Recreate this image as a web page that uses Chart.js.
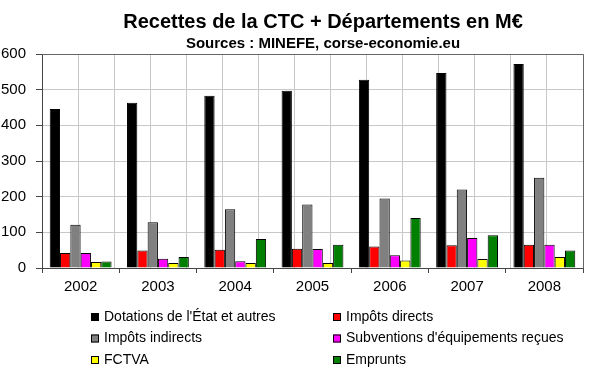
<!DOCTYPE html>
<html>
<head>
<meta charset="utf-8">
<script src="https://cdn.jsdelivr.net/npm/chart.js@4"></script>
<style>
  html, body { margin: 0; padding: 0; background: #fff; }
  #wrap { width: 600px; height: 372px; }
</style>
</head>
<body>
<div id="wrap"><canvas id="chart" width="600" height="372"></canvas></div>
<script>
const years = ['2002', '2003', '2004', '2005', '2006', '2007', '2008'];
const dotations = [446, 463, 483, 497, 528, 547, 572];
const impotsDirects = [42, 49, 51, 54, 60, 64, 65];
const impotsIndirects = [121, 128, 165, 178, 195, 220, 253];
const subventions = [42, 26, 19, 53, 36, 84, 65];
const fctva = [17, 14, 14, 14, 21, 25, 31];
const emprunts = [18, 31, 81, 65, 140, 92, 49];

const seriesNames = ["Dotations de l'État et autres", 'Impôts directs', 'Impôts indirects',
  "Subventions d'équipements reçues", 'FCTVA', 'Emprunts'];
const seriesColors = ['#000000', '#ff0000', '#808080', '#ff00ff', '#ffff00', '#008000'];
const seriesData = [dotations, impotsDirects, impotsIndirects, subventions, fctva, emprunts];

const titleText = 'Recettes de la CTC + Départements en M€';
const subtitleText = 'Sources : MINEFE, corse-economie.eu';

const FONT = '"Liberation Sans", Arial, sans-serif';

// title, subtitle, plot frame and the 2-column legend
const decor = {
  id: 'decor',
  afterDraw(chart) {
    const ctx = chart.ctx;
    const area = chart.chartArea;
    ctx.save();
    ctx.strokeStyle = '#666';
    ctx.lineWidth = 1;
    ctx.beginPath();
    ctx.moveTo(Math.round(area.left) + 0.5, Math.round(area.top) + 0.5);
    ctx.lineTo(Math.round(area.right) + 0.5, Math.round(area.top) + 0.5);
    ctx.lineTo(Math.round(area.right) + 0.5, Math.round(area.bottom) + 0.5);
    ctx.stroke();

    ctx.fillStyle = '#000';
    ctx.textAlign = 'center';
    ctx.textBaseline = 'alphabetic';
    ctx.font = 'bold 20px ' + FONT;
    ctx.fillText(titleText, 323, 28);
    ctx.font = 'bold 15px ' + FONT;
    ctx.fillText(subtitleText, 323, 48);

    ctx.font = '14px ' + FONT;
    ctx.textAlign = 'left';
    ctx.textBaseline = 'middle';
    chart.data.datasets.forEach((ds, i) => {
      const col = i % 2, row = Math.floor(i / 2);
      const bx = col === 0 ? 91 : 333;
      const by = 317 + row * 21.5;
      ctx.fillStyle = ds.backgroundColor;
      ctx.fillRect(bx, by - 4, 8, 8);
      ctx.strokeStyle = '#000';
      ctx.strokeRect(bx + 0.5, by - 3.5, 7, 7);
      ctx.fillStyle = '#000';
      ctx.fillText(ds.label, bx + 13, by);
    });
    ctx.restore();
  }
};

new Chart(document.getElementById('chart'), {
  type: 'bar',
  data: {
    labels: years,
    datasets: seriesNames.map((name, i) => ({
      label: name,
      data: seriesData[i],
      backgroundColor: seriesColors[i],
      borderColor: '#000',
      borderWidth: 1,
      borderSkipped: 'bottom',
      categoryPercentage: 0.8,
      barPercentage: 1.0
    }))
  },
  options: {
    responsive: false,
    animation: false,
    layout: { padding: { top: 54, right: 17, bottom: 74, left: 0 } },
    plugins: {
      legend: { display: false },
      title: { display: false },
      tooltip: { enabled: false }
    },
    scales: {
      x: {
        grid: {
          offset: true,
          drawOnChartArea: false,
          tickLength: 5,
          tickColor: '#444'
        },
        border: { display: true, color: '#444' },
        ticks: { color: '#000', font: { family: FONT, size: 15 }, padding: 5 },
        afterFit(s) { s.height = 30; }
      },
      x2: {
        type: 'linear',
        position: 'top',
        min: 0,
        max: 14,
        ticks: { display: false, stepSize: 1 },
        grid: { color: '#c8c8c8', borderDash: [3, 3], drawTicks: false },
        border: { display: false },
        afterFit(s) { s.height = 0; }
      },
      y: {
        min: 0,
        max: 600,
        ticks: { stepSize: 100, color: '#000', font: { family: FONT, size: 15 }, padding: 10 },
        grid: {
          color: '#c8c8c8',
          borderDash: [3, 3],
          tickLength: 6,
          tickColor: '#444',
          tickBorderDash: []
        },
        border: { display: true, color: '#444' },
        afterFit(s) { s.width = 42; }
      }
    }
  },
  plugins: [decor]
});
</script>
</body>
</html>
